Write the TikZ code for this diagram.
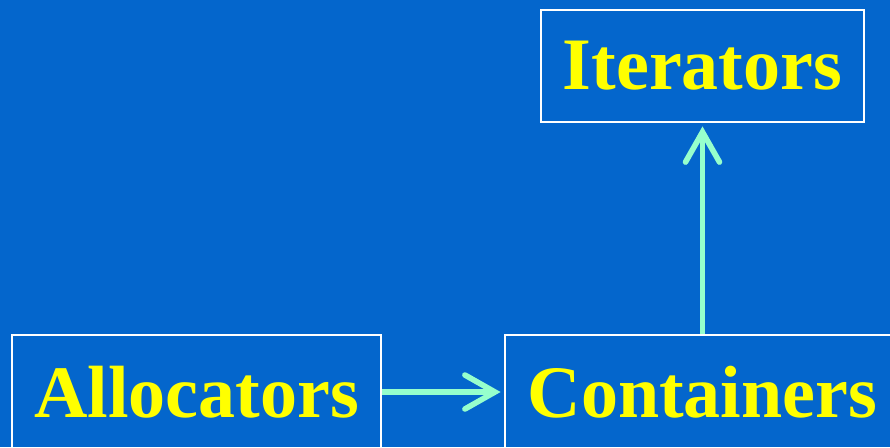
\documentclass[tikz,border=0pt]{standalone}
\usepackage{fontspec}
\setmainfont{Liberation Serif}
\usetikzlibrary{arrows.meta}

\definecolor{slideblue}{RGB}{4,102,204}
\definecolor{linkgreen}{RGB}{150,255,204}
\definecolor{labelyellow}{RGB}{255,255,0}

\begin{document}
\begin{tikzpicture}[x=0.5pt,y=-0.5pt,
		part/.style={draw=white,line width=1.4pt,text=labelyellow,
			font=\fontsize{37}{40}\selectfont\bfseries,inner sep=0pt},
		link/.style={draw=linkgreen,line width=2.8pt,shorten >=1.5pt,
			-{Straight Barb[length=15pt,width=17pt,line cap=round]}}]
				% slide background
				\fill[slideblue] (0,0) rectangle (890,447);
				\useasboundingbox (0,0) rectangle (890,447);
				\clip (0,0) rectangle (890,447);
				% the three parts
				\node[part,minimum width=161.5pt,minimum height=56pt] (iter) at (702.5,66) {Iterators};
				\node[part,minimum width=184.5pt,minimum height=57pt] (alloc) at (196.5,392) {Allocators};
				\node[part,minimum width=197.5pt,minimum height=57pt] (cont) at (702.5,392) {Containers};
				% how they depend on each other
				\draw[link] (alloc.east) -- (cont.west);
				\draw[link] (cont.north) -- (iter.south);
			\end{tikzpicture}
\end{document}
